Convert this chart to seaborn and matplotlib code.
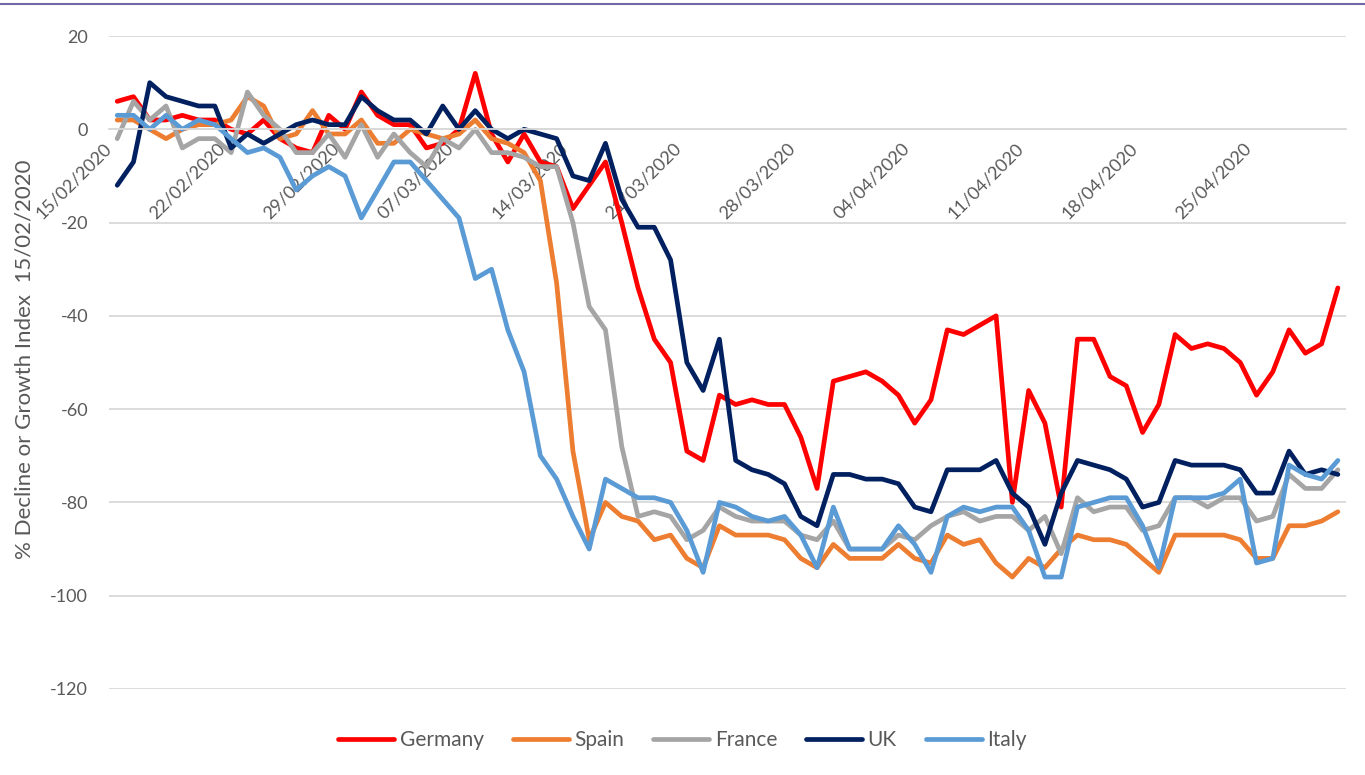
import numpy as np
import pandas as pd
import matplotlib
matplotlib.use('Agg')
import matplotlib.pyplot as plt
import matplotlib.dates as mdates
from matplotlib.lines import Line2D
import seaborn as sns

# daily index values, 15/02/2020 .. 30/04/2020
start_date = '2020-02-15'
countries = ['Germany', 'Spain', 'France', 'UK', 'Italy']
colours = ['#FF0000', '#ED7D31', '#A5A5A5', '#002060', '#5B9BD5']

germany = [6, 7, 2, 2, 3, 2, 2, 0, -1, 2, -2, -4, -5, 3, 0,
           8, 3, 1, 1, -4, -3, 0, 12, -1, -7, -1, -7, -8, -17, -12,
           -7, -20, -34, -45, -50, -69, -71, -57, -59, -58, -59, -59, -66, -77, -54,
           -53, -52, -54, -57, -63, -58, -43, -44, -42, -40, -80, -56, -63, -81, -45,
           -45, -53, -55, -65, -59, -44, -47, -46, -47, -50, -57, -52, -43, -48, -46, -34]
spain = [2, 2, 0, -2, 0, 1, 1, 2, 7, 5, -2, -1, 4, -1, -1,
         2, -3, -3, 0, -1, -2, -1, 2, -2, -3, -5, -11, -33, -69, -88,
         -80, -83, -84, -88, -87, -92, -94, -85, -87, -87, -87, -88, -92, -94, -89,
         -92, -92, -92, -89, -92, -93, -87, -89, -88, -93, -96, -92, -94, -90, -87,
         -88, -88, -89, -92, -95, -87, -87, -87, -87, -88, -92, -92, -85, -85, -84, -82]
france = [-2, 6, 2, 5, -4, -2, -2, -5, 8, 3, 0, -5, -5, -1, -6,
          1, -6, -1, -5, -8, -2, -4, 0, -5, -5, -6, -8, -8, -20, -38,
          -43, -68, -83, -82, -83, -88, -86, -81, -83, -84, -84, -84, -87, -88, -84,
          -90, -90, -90, -87, -88, -85, -83, -82, -84, -83, -83, -86, -83, -91, -79,
          -82, -81, -81, -86, -85, -79, -79, -81, -79, -79, -84, -83, -74, -77, -77, -73]
uk = [-12, -7, 10, 7, 6, 5, 5, -4, -1, -3, -1, 1, 2, 1, 1,
      7, 4, 2, 2, -1, 5, 0, 4, 0, -2, 0, -1, -2, -10, -11,
      -3, -15, -21, -21, -28, -50, -56, -45, -71, -73, -74, -76, -83, -85, -74,
      -74, -75, -75, -76, -81, -82, -73, -73, -73, -71, -78, -81, -89, -78, -71,
      -72, -73, -75, -81, -80, -71, -72, -72, -72, -73, -78, -78, -69, -74, -73, -74]
italy = [3, 3, 0, 3, 0, 2, 1, -2, -5, -4, -6, -13, -10, -8, -10,
         -19, -13, -7, -7, -11, -15, -19, -32, -30, -43, -52, -70, -75, -83, -90,
         -75, -77, -79, -79, -80, -86, -95, -80, -81, -83, -84, -83, -87, -94, -81,
         -90, -90, -90, -85, -89, -95, -83, -81, -82, -81, -81, -86, -96, -96, -81,
         -80, -79, -79, -85, -94, -79, -79, -79, -78, -75, -93, -92, -72, -74, -75, -71]

y_ticks = [-120, -100, -80, -60, -40, -20, 0, 20]
y_label = '% Decline or Growth Index  15/02/2020'

# points sit in the middle of each day, like Excel's date axis
dates = pd.date_range(start_date, periods=len(germany), freq='D') + pd.Timedelta(hours=12)
df = pd.DataFrame({'Date': dates, 'Germany': germany, 'Spain': spain,
                   'France': france, 'UK': uk, 'Italy': italy})
long_df = df.melt(id_vars='Date', var_name='Country', value_name='Index')

sns.set_style('white')
plt.rcParams['font.family'] = ['Lato', 'DejaVu Sans']
plt.rcParams['axes.unicode_minus'] = False
text_col = '#595959'
grid_col = '#D9D9D9'

fig = plt.figure(figsize=(13.65, 7.75), dpi=100)
ax = fig.add_axes([0.0799, 0.111, 0.9062, 0.8425])

sns.lineplot(data=long_df, x='Date', y='Index', hue='Country', hue_order=countries,
             palette=dict(zip(countries, colours)), linewidth=3.4,
             solid_joinstyle='round', solid_capstyle='round', ax=ax)

ax.set_xlim(pd.Timestamp('2020-02-15'), pd.Timestamp('2020-05-01'))
ax.set_ylim(-120, 20)
ax.set_yticks(y_ticks)
ax.set_xticks(pd.date_range('2020-02-15', '2020-04-25', freq='7D'))
ax.xaxis.set_major_formatter(mdates.DateFormatter('%d/%m/%Y'))

ax.yaxis.grid(True, color=grid_col, lw=1.3)
ax.xaxis.grid(False)
for s in ['left', 'right', 'top']:
    ax.spines[s].set_visible(False)
ax.spines['bottom'].set_position(('data', 0))
ax.spines['bottom'].set_color(grid_col)
ax.spines['bottom'].set_linewidth(1.3)

ax.tick_params(axis='y', length=0, pad=15, labelsize=13, labelcolor=text_col)
ax.tick_params(axis='x', direction='out', length=6, width=1.3, color=grid_col,
               pad=6, labelsize=13, labelcolor=text_col)
for lab in ax.get_xticklabels():
    lab.set_rotation(45)
    lab.set_ha('right')
    lab.set_va('center')
    lab.set_rotation_mode('anchor')

ax.set_xlabel('')
ax.set_ylabel(y_label, fontsize=16, color=text_col)
ax.yaxis.set_label_coords(-0.06, 0.505)

handles, labels = ax.get_legend_handles_labels()
ax.get_legend().remove()
leg = fig.legend(handles, labels, loc='center', bbox_to_anchor=(0.5, 0.045), ncol=5,
                 frameon=False, fontsize=15, handlelength=2.7, handletextpad=0.25,
                 columnspacing=1.4)
for t in leg.get_texts():
    t.set_color(text_col)
for h in leg.legend_handles:
    h.set_linewidth(3.4)

# thin border line along the top of the picture
fig.add_artist(Line2D([0, 1], [0.995, 0.995], transform=fig.transFigure,
                      color='#7467A8', lw=1.5))

fig.savefig('out.png', dpi=100)
